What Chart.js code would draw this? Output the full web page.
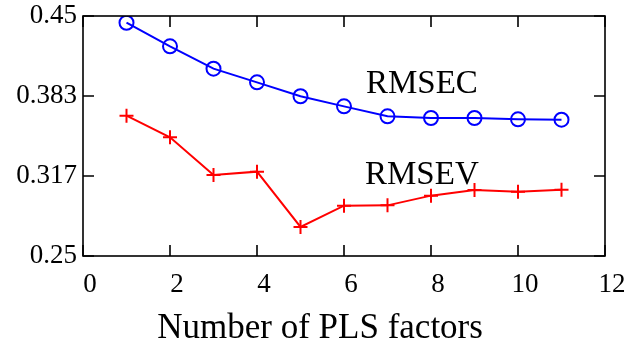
<!DOCTYPE html>
<html>
<head>
<meta charset="utf-8">
<script src="https://cdn.jsdelivr.net/npm/chart.js@4/dist/chart.umd.min.js"></script>
<style>
  html, body { margin: 0; padding: 0; background: #ffffff; }
  #wrap { width: 631px; height: 344px; position: relative; }
</style>
</head>
<body>
<div id="wrap"><canvas id="c" width="631" height="344"></canvas></div>
<script>
// ---- data ----
const factors = [1, 2, 3, 4, 5, 6, 7, 8, 9, 10, 11];
const rmsec = [0.4444, 0.4247, 0.4061, 0.3947, 0.3831, 0.3747, 0.3664, 0.3650, 0.3650, 0.3639, 0.3636];
const rmsev = [0.3669, 0.3489, 0.3175, 0.3203, 0.2742, 0.2919, 0.2922, 0.3003, 0.3050, 0.3036, 0.3053];
const yTickValues = [0.25, 0.31667, 0.38333, 0.45];
const yTickLabels = ['0.25', '0.317', '0.383', '0.45'];
const xTickValues = [0, 2, 4, 6, 8, 10, 12];
const xTitle = 'Number of PLS factors';
const seriesLabels = ['RMSEC', 'RMSEV'];
const labelAnchors = [[7.79, 0.3858], [7.79, 0.3100]];

const FONT = "'Liberation Serif', 'Times New Roman', serif";

const framePlugin = {
  id: 'frame',
  afterDatasetsDraw(chart) {
    const ctx = chart.ctx;
    const a = chart.chartArea;
    const xs = chart.scales.x, ys = chart.scales.y;
    ctx.save();
    ctx.strokeStyle = '#000';
    ctx.lineWidth = 1.6;
    ctx.strokeRect(a.left, a.top, a.right - a.left, a.bottom - a.top);
    ctx.beginPath();
    const tl = 11;
    xTickValues.forEach(v => {
      const px = xs.getPixelForValue(v);
      ctx.moveTo(px, a.bottom); ctx.lineTo(px, a.bottom - tl);
      ctx.moveTo(px, a.top); ctx.lineTo(px, a.top + tl);
    });
    yTickValues.forEach(v => {
      const py = ys.getPixelForValue(v);
      ctx.moveTo(a.left, py); ctx.lineTo(a.left + tl, py);
      ctx.moveTo(a.right, py); ctx.lineTo(a.right - tl, py);
    });
    ctx.stroke();
    // series text labels
    ctx.fillStyle = '#000';
    ctx.font = '33px ' + FONT;
    ctx.textAlign = 'center';
    ctx.textBaseline = 'alphabetic';
    seriesLabels.forEach((t, i) => {
      ctx.fillText(t, xs.getPixelForValue(labelAnchors[i][0]), ys.getPixelForValue(labelAnchors[i][1]));
    });
    // x axis title (centred slightly left of the axis centre, as in the reference)
    ctx.font = '35px ' + FONT;
    ctx.fillText(xTitle, xs.getPixelForValue(5.45), a.bottom + 82);
    ctx.restore();
  }
};

new Chart(document.getElementById('c'), {
  type: 'line',
  data: {
    datasets: [
      {
        label: seriesLabels[0],
        data: factors.map((f, i) => ({ x: f, y: rmsec[i] })),
        borderColor: '#0000ff',
        backgroundColor: 'rgba(0,0,0,0)',
        borderWidth: 2,
        pointStyle: 'circle',
        pointRadius: 7,
        pointBorderWidth: 2,
        pointBorderColor: '#0000ff',
        pointBackgroundColor: 'rgba(0,0,0,0)',
        tension: 0
      },
      {
        label: seriesLabels[1],
        data: factors.map((f, i) => ({ x: f, y: rmsev[i] })),
        borderColor: '#ff0000',
        backgroundColor: 'rgba(0,0,0,0)',
        borderWidth: 2,
        pointStyle: 'cross',
        pointRadius: 7,
        pointBorderWidth: 2,
        pointBorderColor: '#ff0000',
        tension: 0
      }
    ]
  },
  options: {
    responsive: false,
    animation: false,
    devicePixelRatio: 1,
    layout: { padding: { left: 0, right: 26, top: 16, bottom: 0 } },
    plugins: { legend: { display: false }, tooltip: { enabled: false } },
    scales: {
      x: {
        type: 'linear',
        min: 0, max: 12,
        afterBuildTicks(s) { s.ticks = xTickValues.map(v => ({ value: v })); },
        afterFit(s) { s.height = 88; s.paddingLeft = 0; s.paddingRight = 0; },
        grid: { display: false, drawTicks: false },
        border: { display: false },
        ticks: {
          color: '#000',
          font: { family: FONT, size: 27 },
          padding: 13,
          labelOffset: 7,
          maxRotation: 0,
          callback: v => String(v)
        },
        title: { display: false }
      },
      y: {
        type: 'linear',
        min: 0.25, max: 0.45,
        afterBuildTicks(s) { s.ticks = yTickValues.map(v => ({ value: v })); },
        afterFit(s) { s.width = 83; s.paddingTop = 0; s.paddingBottom = 0; },
        grid: { display: false, drawTicks: false },
        border: { display: false },
        ticks: {
          color: '#000',
          font: { family: FONT, size: 27 },
          padding: 6,
          callback: (v) => {
            const i = yTickValues.findIndex(t => Math.abs(t - v) < 1e-6);
            return i >= 0 ? yTickLabels[i] : '';
          }
        }
      }
    }
  },
  plugins: [framePlugin]
});
</script>
</body>
</html>
